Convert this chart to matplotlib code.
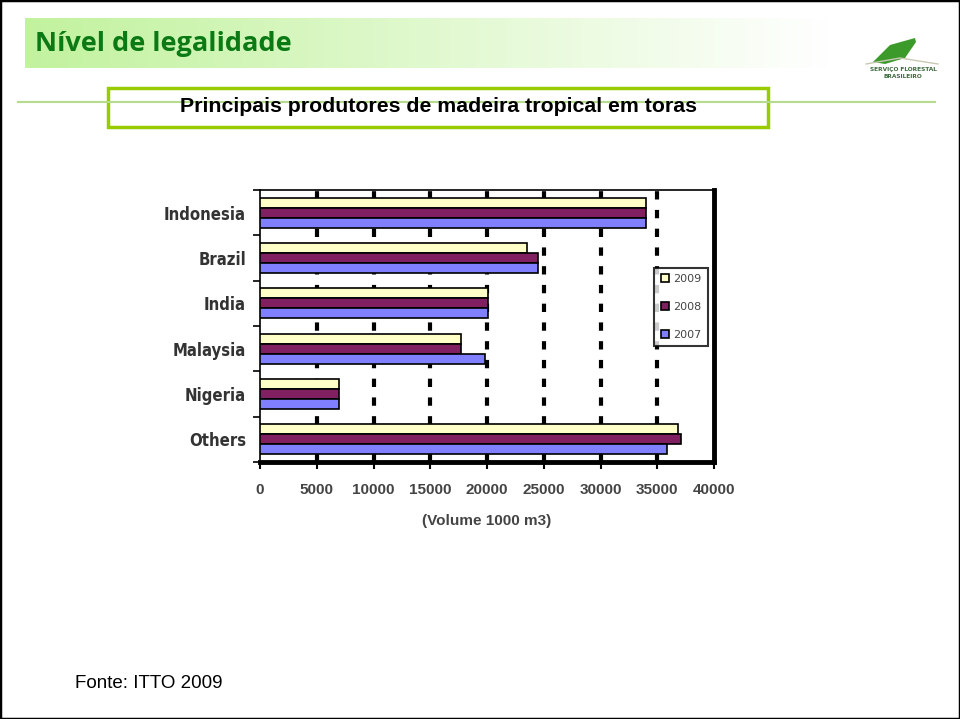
import numpy as np
import matplotlib.pyplot as plt
from matplotlib.patches import Rectangle, Polygon
from matplotlib.lines import Line2D

countries = ["Indonesia", "Brazil", "India", "Malaysia", "Nigeria", "Others"]
years = ["2009", "2008", "2007"]
vol_2009 = [34000, 23500, 20100, 17700, 7000, 36800]
vol_2008 = [34000, 24500, 20100, 17700, 7000, 37100]
vol_2007 = [34000, 24500, 20100, 19800, 7000, 35900]
xticks = [0, 5000, 10000, 15000, 20000, 25000, 30000, 35000, 40000]
colors = ["#ffffc8", "#802060", "#8080ff"]

W, H = 960, 719
fig = plt.figure(figsize=(9.6, 7.19), dpi=100)

def fx(x):
    return x / W

def fy(y):
    return 1 - y / H

# title band with gradient
band = fig.add_axes([fx(25), fy(68), fx(805), 50 / H])
grad = np.linspace(0, 1, 256).reshape(1, -1)
c0 = np.array([0.76, 0.95, 0.62])
rgb = c0[None, None, :] * (1 - grad[..., None]) + np.ones(3)[None, None, :] * grad[..., None]
band.imshow(rgb, aspect="auto", extent=[0, 1, 0, 1])
band.axis("off")
fig.text(fx(35), fy(44), "Nível de legalidade", fontsize=19.5, fontweight="bold",
         family="Open Sans", color="#0b7a14", va="center", ha="left", fontstretch="condensed")

# green separator line and subtitle box
fig.add_artist(Line2D([fx(18), fx(935)], [fy(102), fy(102)], color="#b4dc8c", lw=1.5))
fig.add_artist(Rectangle((fx(108), fy(127)), fx(660), 39 / H, facecolor="white",
                         edgecolor="#99cc00", lw=2.5, transform=fig.transFigure))
fig.text(fx(438), fy(107), "Principais produtores de madeira tropical em toras",
         fontsize=15.3, fontweight="bold", family="Liberation Sans", ha="center", va="center")

# logo
leaf = Polygon([[fx(873), fy(62)], [fx(890), fy(45)], [fx(915), fy(38)], [fx(916), fy(42)],
                [fx(905), fy(58)], [fx(885), fy(64)]], closed=True, facecolor="#3c9a2a",
                edgecolor="none", transform=fig.transFigure)
fig.add_artist(leaf)
fig.add_artist(Line2D([fx(866), fx(900), fx(938)], [fy(64), fy(58), fy(64)],
                      color="#c8c8b4", lw=1))
fig.text(fx(903), fy(69), "SERVIÇO FLORESTAL", fontsize=4.2, fontweight="bold",
         color="#3d6b3d", ha="center", va="center")
fig.text(fx(903), fy(76), "BRASILEIRO", fontsize=4.2, fontweight="bold",
         color="#3d6b3d", ha="center", va="center")

# chart
ax = fig.add_axes([fx(260), fy(462), fx(454), 272 / H])
y = np.arange(len(countries))
h = 0.22
for vals, col, off, lab in zip([vol_2009, vol_2008, vol_2007], colors, [-h, 0, h], years):
    ax.barh(y + off, vals, height=h, color=col, edgecolor="black", lw=1.2,
            label=lab, zorder=3)

ax.set_xlim(0, 40000)
ax.set_ylim(len(countries) - 0.5, -0.5)
ax.set_xticks(xticks)
ax.set_xticklabels([str(t) for t in xticks], fontsize=11, fontweight="bold",
                   color="#444444", family="Liberation Sans", fontstretch="condensed")
ax.set_yticks(y)
ax.set_yticklabels(countries, fontsize=12, fontweight="bold", color="#333333",
                   family="DejaVu Sans", fontstretch="condensed")
ax.tick_params(axis="y", length=0, pad=10)
ax.set_yticks(np.arange(-0.5, len(countries)), minor=True)
ax.tick_params(axis="y", which="minor", length=5, width=1.2, direction="out")
ax.tick_params(axis="x", length=5, width=1.5, direction="out", pad=10)
for xv in xticks[1:-1]:
    ax.axvline(xv, color="black", lw=3, linestyle=(0, (2, 2.5)), zorder=1)

ax.spines["left"].set_linewidth(1.2)
ax.spines["top"].set_linewidth(1.2)
ax.spines["bottom"].set_linewidth(3.5)
ax.spines["right"].set_linewidth(3.5)
ax.set_xlabel("(Volume 1000 m3)", fontsize=11, fontweight="bold", color="#444444",
              family="Liberation Sans", labelpad=12)

leg = ax.legend(loc="upper left", bbox_to_anchor=(0.868, 0.715), fontsize=8,
                frameon=True, fancybox=False, edgecolor="black", handlelength=0.7,
                handleheight=0.7, labelspacing=1.6, handletextpad=0.4,
                borderpad=0.6, borderaxespad=0)
leg.get_frame().set_linewidth(1.5)
for t in leg.get_texts():
    t.set_color("#444444")

fig.text(fx(75), fy(684), "Fonte: ITTO 2009", fontsize=13.5, family="Liberation Sans",
         ha="left", va="center")

# outer frame
fig.add_artist(Rectangle((0, 0), 1, 1, facecolor="none", edgecolor="black", lw=2.5,
                         transform=fig.transFigure))

fig.savefig("out.png", dpi=100)
